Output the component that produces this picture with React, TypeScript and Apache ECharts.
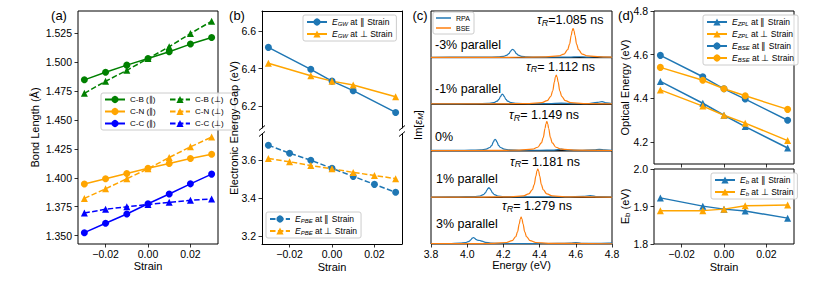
import React, { useEffect, useRef } from 'react';
import * as echarts from 'echarts';

// ---------- data ----------
const strain7 = [-0.03, -0.02, -0.01, 0, 0.01, 0.02, 0.03];
const strain5 = [-0.03, -0.01, 0, 0.01, 0.03];
const strainTicks = [-0.02, 0, 0.02];

// (a) bond lengths (Å)
const cbPar = [1.4847, 1.4912, 1.4974, 1.5031, 1.509, 1.5156, 1.5213];
const cbPerp = [1.473, 1.4835, 1.4929, 1.5031, 1.5133, 1.5247, 1.5354];
const cnPar = [1.3946, 1.3992, 1.4037, 1.4083, 1.4124, 1.4167, 1.4204];
const cnPerp = [1.3822, 1.3905, 1.3992, 1.4078, 1.4176, 1.4268, 1.4352];
const ccPar = [1.3526, 1.3607, 1.3687, 1.3776, 1.386, 1.3948, 1.4032];
const ccPerp = [1.3696, 1.3728, 1.375, 1.377, 1.3788, 1.3806, 1.3817];
const aTicks = [1.35, 1.375, 1.4, 1.425, 1.45, 1.475, 1.5, 1.525];

// (b) electronic gaps (eV)
const gwPar = [6.513, 6.396, 6.333, 6.282, 6.166];
const gwPerp = [6.428, 6.362, 6.333, 6.312, 6.25];
const pbePar = [3.677, 3.635, 3.598, 3.555, 3.513, 3.471, 3.429];
const pbePerp = [3.607, 3.59, 3.57, 3.553, 3.534, 3.518, 3.501];
const bUpTicks = [6.2, 6.4, 6.6];
const bLowTicks = [3.2, 3.4, 3.6];

// (c) spectra [energy eV, Im eps] (normalised per panel)
const energyTicks = [3.8, 4.0, 4.2, 4.4, 4.6, 4.8];
const panelLabels = ['-3% parallel', '-1% parallel', '0%', '1% parallel', '3% parallel'];
const tauValues = ['=1.085 ns', '= 1.112 ns', '= 1.149 ns', '= 1.181 ns', '= 1.279 ns'];

const rpaM3 = [[3.80,0.008],[3.95,0.009],[4.10,0.010],[4.17,0.016],[4.20,0.028],[4.22,0.053],[4.23,0.084],[4.24,0.138],[4.246,0.166],[4.251,0.178],[4.256,0.166],[4.262,0.138],[4.272,0.084],[4.282,0.053],[4.30,0.028],[4.33,0.016],[4.40,0.010],[4.50,0.012],[4.56,0.010],[4.62,0.018],[4.66,0.012],[4.72,0.022],[4.76,0.012],[4.80,0.010]];
const rpaM1 = [[3.80,0.008],[3.95,0.009],[4.05,0.011],[4.115,0.018],[4.145,0.032],[4.165,0.064],[4.175,0.102],[4.185,0.168],[4.19,0.203],[4.194,0.218],[4.199,0.203],[4.204,0.168],[4.214,0.102],[4.224,0.064],[4.244,0.032],[4.274,0.018],[4.34,0.011],[4.45,0.012],[4.52,0.022],[4.58,0.012],[4.66,0.012],[4.72,0.040],[4.745,0.055],[4.77,0.030],[4.80,0.014]];
const rpa0 = [[3.80,0.008],[3.95,0.010],[4.02,0.013],[4.075,0.020],[4.105,0.036],[4.125,0.071],[4.135,0.113],[4.145,0.190],[4.15,0.230],[4.154,0.248],[4.159,0.230],[4.164,0.190],[4.174,0.113],[4.184,0.071],[4.204,0.036],[4.234,0.020],[4.30,0.012],[4.40,0.012],[4.48,0.016],[4.52,0.034],[4.55,0.016],[4.62,0.012],[4.70,0.020],[4.73,0.032],[4.76,0.018],[4.80,0.012]];
const rpaP1 = [[3.80,0.008],[3.95,0.011],[4.04,0.018],[4.07,0.030],[4.09,0.060],[4.10,0.097],[4.11,0.160],[4.115,0.193],[4.12,0.208],[4.125,0.193],[4.13,0.160],[4.14,0.097],[4.15,0.060],[4.17,0.030],[4.20,0.018],[4.27,0.011],[4.40,0.010],[4.55,0.012],[4.64,0.020],[4.68,0.040],[4.72,0.018],[4.80,0.012]];
const rpaP3 = [[3.80,0.008],[3.90,0.010],[3.96,0.018],[3.99,0.030],[4.01,0.058],[4.02,0.090],[4.028,0.125],[4.034,0.140],[4.04,0.128],[4.048,0.100],[4.058,0.080],[4.07,0.075],[4.082,0.060],[4.10,0.036],[4.13,0.020],[4.20,0.011],[4.35,0.010],[4.50,0.012],[4.57,0.018],[4.60,0.030],[4.63,0.016],[4.70,0.012],[4.78,0.018],[4.80,0.025]];

const bseM3 = [[3.80,0.005],[4.28,0.007],[4.435,0.014],[4.505,0.035],[4.535,0.076],[4.555,0.169],[4.565,0.282],[4.575,0.479],[4.58,0.58],[4.585,0.625],[4.59,0.58],[4.595,0.479],[4.605,0.282],[4.615,0.169],[4.635,0.076],[4.665,0.035],[4.735,0.014],[4.80,0.009]];
const bseM1 = [[3.80,0.005],[4.19,0.007],[4.342,0.014],[4.412,0.035],[4.442,0.076],[4.462,0.169],[4.472,0.282],[4.482,0.479],[4.487,0.58],[4.492,0.625],[4.497,0.58],[4.502,0.479],[4.512,0.282],[4.522,0.169],[4.542,0.076],[4.572,0.035],[4.642,0.014],[4.80,0.007]];
const bse0 = [[3.80,0.005],[4.14,0.007],[4.29,0.014],[4.36,0.035],[4.39,0.076],[4.41,0.169],[4.42,0.282],[4.43,0.479],[4.435,0.58],[4.44,0.625],[4.445,0.58],[4.45,0.479],[4.46,0.282],[4.47,0.169],[4.49,0.076],[4.52,0.035],[4.59,0.014],[4.80,0.006]];
const bseP1 = [[3.80,0.005],[4.09,0.007],[4.24,0.013],[4.31,0.034],[4.34,0.074],[4.36,0.164],[4.37,0.273],[4.38,0.463],[4.385,0.562],[4.39,0.605],[4.395,0.562],[4.40,0.463],[4.41,0.273],[4.42,0.164],[4.44,0.074],[4.47,0.034],[4.54,0.013],[4.80,0.006]];
const bseP3 = [[3.80,0.006],[3.998,0.007],[4.148,0.013],[4.218,0.032],[4.248,0.071],[4.268,0.156],[4.278,0.26],[4.288,0.44],[4.293,0.534],[4.298,0.575],[4.303,0.534],[4.308,0.44],[4.318,0.26],[4.328,0.156],[4.348,0.071],[4.378,0.032],[4.448,0.013],[4.80,0.005]];
const rpaSpectra = [rpaM3, rpaM1, rpa0, rpaP1, rpaP3];
const bseSpectra = [bseM3, bseM1, bse0, bseP1, bseP3];

// (d) optical energies (eV)
const zplPar = [4.478, 4.378, 4.323, 4.271, 4.173];
const zplPerp = [4.439, 4.365, 4.323, 4.287, 4.207];
const bsePar = [4.597, 4.499, 4.444, 4.397, 4.3];
const bsePerp = [4.542, 4.483, 4.444, 4.412, 4.35];
const ebPar = [1.923, 1.901, 1.893, 1.888, 1.869];
const ebPerp = [1.889, 1.889, 1.893, 1.902, 1.904];
const dUpTicks = [4.2, 4.4, 4.6, 4.8];
const dLowTicks = [1.8, 1.9, 2.0];

// ---------- styling ----------
const F = '"Liberation Sans", Arial, Helvetica, sans-serif';
const GREEN = '#008000';
const ORANGE = '#ffa500';
const BLUE = '#0000ff';
const TBLUE = '#1f77b4';
const TORANGE = '#ff7f0e';
const DASH = [5.5, 2.4];

const fmtStrain = (v: number) => {
  if (Math.abs(v) < 1e-9) return '0.00';
  const s = Math.abs(v).toFixed(2);
  return v < 0 ? '\u2212' + s : s;
};

const tickStyle = { show: true, length: 3.5, lineStyle: { color: '#000', width: 0.8 } };
const labelBase = { fontSize: 10.5, color: '#000', fontFamily: F };

function xAxisCfg(gridIndex: number, min: number, max: number, ticks: number[], showLabels: boolean, showTicks: boolean, fmt: (v: number) => string, extra: any = {}) {
  return {
    type: 'value', gridIndex, min, max,
    axisLine: { show: false, onZero: false },
    axisTick: { ...tickStyle, show: showTicks, customValues: ticks },
    axisLabel: { ...labelBase, show: showLabels, margin: 4, customValues: ticks, formatter: fmt },
    splitLine: { show: false },
    ...extra,
  };
}
function yAxisCfg(gridIndex: number, min: number, max: number, ticks: number[], showLabels: boolean, showTicks: boolean, fmt: (v: number) => string, extra: any = {}) {
  return {
    type: 'value', gridIndex, min, max,
    axisLine: { show: false, onZero: false },
    axisTick: { ...tickStyle, show: showTicks, customValues: ticks },
    axisLabel: { ...labelBase, show: showLabels, margin: 6, customValues: ticks, formatter: fmt },
    splitLine: { show: false },
    ...extra,
  };
}

function lineSeries(name: string, xs: number[], ys: number[], xi: number, yi: number, color: string, symbol: string, dashed: boolean) {
  return {
    type: 'line', name, xAxisIndex: xi, yAxisIndex: yi,
    data: xs.map((x, i) => [x, ys[i]]),
    symbol, symbolSize: 7, showSymbol: true,
    lineStyle: { color, width: 1.5, type: dashed ? DASH : 'solid' },
    itemStyle: { color, borderWidth: 0 },
    emphasis: { disabled: true },
    z: 3,
  };
}

const legLabels: Record<string, string> = {
  gwPar: '{i|E}{s|GW}{n| at \u2225 Strain}',
  gwPerp: '{i|E}{s|GW}{n| at \u22a5 Strain}',
  pbePar: '{i|E}{s|PBE}{n| at \u2225 Strain}',
  pbePerp: '{i|E}{s|PBE}{n| at \u22a5 Strain}',
  zplPar: '{i|E}{s|ZPL}{n| at \u2225 Strain}',
  zplPerp: '{i|E}{s|ZPL}{n| at \u22a5 Strain}',
  bsePar: '{i|E}{s|BSE}{n| at \u2225 Strain}',
  bsePerp: '{i|E}{s|BSE}{n| at \u22a5 Strain}',
  ebPar: '{i|E}{s|b}{n| at \u2225 Strain}',
  ebPerp: '{i|E}{s|b}{n| at \u22a5 Strain}',
};
const legRich = {
  i: { fontStyle: 'italic', fontSize: 8.5, fontFamily: F, lineHeight: 10, color: '#000' },
  s: { fontStyle: 'italic', fontSize: 6, fontFamily: F, lineHeight: 6, verticalAlign: 'bottom', color: '#000' },
  n: { fontSize: 8.5, fontFamily: F, lineHeight: 10, color: '#000' },
};
function legendCfg(data: string[], left: number, top: number, extra: any = {}) {
  return {
    data, orient: 'vertical', left, top,
    itemWidth: 20, itemHeight: 9, itemGap: 2,
    padding: [2, 4, 2, 3],
    backgroundColor: 'rgba(255,255,255,0.85)', borderColor: '#cccccc', borderWidth: 1, borderRadius: 2,
    selectedMode: false,
    formatter: (n: string) => legLabels[n] ?? n,
    textStyle: { fontSize: 8.5, fontFamily: F, color: '#000', lineHeight: 10, rich: legRich },
    ...extra,
  };
}

function buildOption() {
  const cTops = [11, 57.6, 104.2, 150.8, 197.4];
  const grids: any[] = [
    { left: 78, top: 11, width: 140, height: 233, show: true, borderColor: '#000', borderWidth: 1 },
    { left: 262, top: 11, width: 140, height: 117 },
    { left: 262, top: 134, width: 140, height: 110 },
    ...cTops.map((t) => ({ left: 431, top: t, width: 181, height: 46.6, show: true, borderColor: '#000', borderWidth: 1 })),
    { left: 654, top: 11, width: 140, height: 153, show: true, borderColor: '#000', borderWidth: 1 },
    { left: 654, top: 169, width: 140, height: 75, show: true, borderColor: '#000', borderWidth: 1 },
  ].map((g) => ({ ...g, outerBoundsMode: 'none', containLabel: false }));

  const spine = { show: true, onZero: false, lineStyle: { color: '#000', width: 1 } };
  const xAxes: any[] = [
    xAxisCfg(0, -0.033, 0.033, strainTicks, true, true, fmtStrain),
    xAxisCfg(1, -0.033, 0.033, strainTicks, false, false, fmtStrain, { position: 'top', axisLine: spine }),
    xAxisCfg(2, -0.033, 0.033, strainTicks, true, true, fmtStrain, { axisLine: spine }),
    ...[0, 1, 2, 3, 4].map((k) => xAxisCfg(3 + k, 3.8, 4.8, energyTicks, k === 4, k === 4, (v: number) => v.toFixed(1))),
    xAxisCfg(8, -0.033, 0.033, strainTicks, false, true, fmtStrain),
    xAxisCfg(9, -0.033, 0.033, strainTicks, true, true, fmtStrain),
  ];
  const f3 = (v: number) => v.toFixed(3);
  const f1 = (v: number) => v.toFixed(1);
  const yAxes: any[] = [
    yAxisCfg(0, 1.3428, 1.5442, aTicks, true, true, f3),
    yAxisCfg(1, 6.083, 6.707, bUpTicks, true, true, f1, { axisLine: spine }),
    yAxisCfg(1, 6.083, 6.707, bUpTicks, false, false, f1, { position: 'right', axisLine: spine }),
    yAxisCfg(2, 3.157, 3.736, bLowTicks, true, true, f1, { axisLine: spine }),
    yAxisCfg(2, 3.157, 3.736, bLowTicks, false, false, f1, { position: 'right', axisLine: spine }),
    ...[0, 1, 2, 3, 4].map((k) => yAxisCfg(3 + k, 0, 1, [], false, false, f1)),
    yAxisCfg(8, 4.1, 4.8, dUpTicks, true, true, f1),
    yAxisCfg(9, 1.8, 2.0, dLowTicks, true, true, f1),
  ];

  const series: any[] = [
    lineSeries('C-B (\u2225)', strain7, cbPar, 0, 0, GREEN, 'circle', false),
    lineSeries('C-N (\u2225)', strain7, cnPar, 0, 0, ORANGE, 'circle', false),
    lineSeries('C-C (\u2225)', strain7, ccPar, 0, 0, BLUE, 'circle', false),
    lineSeries('C-B (\u22a5)', strain7, cbPerp, 0, 0, GREEN, 'triangle', true),
    lineSeries('C-N (\u22a5)', strain7, cnPerp, 0, 0, ORANGE, 'triangle', true),
    lineSeries('C-C (\u22a5)', strain7, ccPerp, 0, 0, BLUE, 'triangle', true),
    lineSeries('gwPar', strain5, gwPar, 1, 1, TBLUE, 'circle', false),
    lineSeries('gwPerp', strain5, gwPerp, 1, 1, ORANGE, 'triangle', false),
    lineSeries('pbePar', strain7, pbePar, 2, 3, TBLUE, 'circle', true),
    lineSeries('pbePerp', strain7, pbePerp, 2, 3, ORANGE, 'triangle', true),
    lineSeries('zplPar', strain5, zplPar, 8, 10, TBLUE, 'triangle', false),
    lineSeries('zplPerp', strain5, zplPerp, 8, 10, ORANGE, 'triangle', false),
    lineSeries('bsePar', strain5, bsePar, 8, 10, TBLUE, 'circle', false),
    lineSeries('bsePerp', strain5, bsePerp, 8, 10, ORANGE, 'circle', false),
    lineSeries('ebPar', strain5, ebPar, 9, 11, TBLUE, 'triangle', false),
    lineSeries('ebPerp', strain5, ebPerp, 9, 11, ORANGE, 'triangle', false),
  ];
  for (let k = 0; k < 5; k++) {
    series.push({
      type: 'line', name: 'RPA', xAxisIndex: 3 + k, yAxisIndex: 5 + k, data: rpaSpectra[k],
      symbol: 'none', smooth: 0.4, smoothMonotone: 'x', lineStyle: { color: TBLUE, width: 1.2 }, itemStyle: { color: TBLUE },
      emphasis: { disabled: true }, z: 2,
    });
    series.push({
      type: 'line', name: 'BSE', xAxisIndex: 3 + k, yAxisIndex: 5 + k, data: bseSpectra[k],
      symbol: 'none', smooth: 0.4, smoothMonotone: 'x', lineStyle: { color: TORANGE, width: 1.2 }, itemStyle: { color: TORANGE },
      emphasis: { disabled: true }, z: 3,
    });
  }

  const legends: any[] = [
    legendCfg(['C-B (\u2225)', 'C-N (\u2225)', 'C-C (\u2225)', 'C-B (\u22a5)', 'C-N (\u22a5)', 'C-C (\u22a5)'], 101, 93, {
      height: 34, itemGap: 3, itemHeight: 9,
      textStyle: { fontSize: 8, fontFamily: F, color: '#000', lineHeight: 9, width: 36 },
    }),
    legendCfg(['gwPar', 'gwPerp'], 303, 15),
    legendCfg(['pbePar', 'pbePerp'], 266, 212),
    legendCfg(['RPA', 'BSE'], 433, 12, {
      icon: 'rect', itemWidth: 15, itemHeight: 1.5, itemGap: 2,
      textStyle: { fontSize: 7, fontFamily: F, color: '#000', lineHeight: 8 },
    }),
    legendCfg(['zplPar', 'zplPerp', 'bsePar', 'bsePerp'], 703, 15),
    legendCfg(['ebPar', 'ebPerp'], 711, 173),
  ];

  const T = (text: string, x: number, y: number, fontSize: number, extra: any = {}) => ({
    type: 'text', x, y, z: 100,
    style: { text, fontSize, fontFamily: F, fill: '#000', align: 'center', verticalAlign: 'middle', ...extra },
  });
  const yName = (text: string, x: number, y: number, rich?: any) => ({
    type: 'text', x, y, rotation: Math.PI / 2, z: 100,
    style: { text, fontSize: 11, fontFamily: F, fill: '#000', align: 'center', verticalAlign: 'middle', rich },
  });
  const tauRich = {
    t: { fontStyle: 'italic', fontSize: 12.5, fontFamily: F, lineHeight: 14, fill: '#000' },
    s: { fontStyle: 'italic', fontSize: 9, fontFamily: F, lineHeight: 8, verticalAlign: 'bottom', fill: '#000' },
    n: { fontSize: 12.5, fontFamily: F, lineHeight: 14, fill: '#000' },
  };
  const tauPos = [[537, 20], [526, 66.7], [509, 115], [510, 161.7], [502, 206]];
  const labelPos = [[435, 45], [435, 89.3], [435, 136.7], [436, 179.3], [436, 224.3]];

  const breakMarks: any[] = [];
  [262, 402].forEach((x) => {
    [128, 134].forEach((y) => {
      breakMarks.push({ type: 'line', z: 100, shape: { x1: x - 3, y1: y + 2.5, x2: x + 3, y2: y - 2.5 }, style: { stroke: '#000', lineWidth: 1 } });
    });
  });

  const graphic: any[] = [
    T('(a)', 59, 15, 13), T('(b)', 237, 15, 13), T('(c)', 420, 15, 13), T('(d)', 626, 15, 13),
    yName('Bond Length (\u00c5)', 35, 127.5),
    yName('Electronic Energy Gap (eV)', 234, 128),
    yName('{a|Im[}{b|\u03b5}{c|M}{a|]}', 418, 125, {
      a: { fontSize: 11, fontFamily: F, lineHeight: 13 },
      b: { fontSize: 11, fontFamily: F, fontStyle: 'italic', lineHeight: 13 },
      c: { fontSize: 8, fontFamily: F, fontStyle: 'italic', lineHeight: 8, verticalAlign: 'bottom' },
    }),
    yName('Optical Energy (eV)', 625, 87.5),
    yName('{a|E}{c|b}{a| (eV)}', 625, 206.5, {
      a: { fontSize: 11, fontFamily: F, lineHeight: 13 },
      c: { fontSize: 8, fontFamily: F, lineHeight: 8, verticalAlign: 'bottom' },
    }),
    T('Strain', 148, 266, 11), T('Strain', 332, 267, 11), T('Energy (eV)', 521.5, 264.5, 11), T('Strain', 724, 267, 11),
    ...panelLabels.map((s, k) => T(s, labelPos[k][0], labelPos[k][1], 12.5, { align: 'left' })),
    ...tauValues.map((v, k) => ({
      type: 'text', x: tauPos[k][0], y: tauPos[k][1], z: 100,
      style: { text: `{t|\u03c4}{s|R}{n|${v}}`, rich: tauRich, fontSize: 12.5, fontFamily: F, fill: '#000', align: 'left', verticalAlign: 'middle' },
    })),
    ...breakMarks,
  ];

  return {
    animation: false,
    backgroundColor: '#fff',
    grid: grids,
    xAxis: xAxes,
    yAxis: yAxes,
    legend: legends,
    series,
    graphic,
  };
}

export default function App() {
  const ref = useRef<HTMLDivElement>(null);
  useEffect(() => {
    document.body.style.margin = '0';
    const chart = echarts.init(ref.current as HTMLDivElement, null, { renderer: 'svg' });
    chart.setOption(buildOption() as any);
    return () => chart.dispose();
  }, []);
  return <div ref={ref} style={{ width: 830, height: 282 }} />;
}
